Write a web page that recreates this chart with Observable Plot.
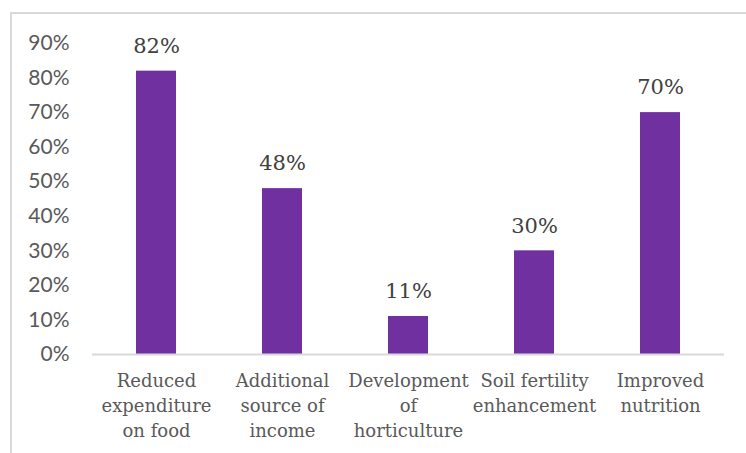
<!DOCTYPE html>
<html>
<head>
<meta charset="utf-8">
<script src="https://cdn.jsdelivr.net/npm/d3@7"></script>
<script src="https://cdn.jsdelivr.net/npm/@observablehq/plot@0.6"></script>
<style>
  html, body { margin: 0; padding: 0; background: #fff; overflow: hidden; }
  #wrap { position: relative; width: 746px; height: 453px; }
  #frame { position: absolute; left: 10px; top: 12px; width: 800px; height: 500px;
           border-left: 2px solid #d9d9d9; border-top: 2px solid #d9d9d9; box-sizing: border-box; }
  #chart { position: absolute; left: 0; top: 0; }
</style>
</head>
<body>
<div id="wrap"><div id="frame"></div><div id="chart"></div></div>
<script>
const categories = [
  "Reduced\nexpenditure\non food",
  "Additional\nsource of\nincome",
  "Development\nof\nhorticulture",
  "Soil fertility\nenhancement",
  "Improved\nnutrition"
];
const values = [82, 48, 11, 30, 70];
const yTicks = [0, 10, 20, 30, 40, 50, 60, 70, 80, 90];

const data = categories.map((c, i) => ({category: c, value: values[i]}));

const chart = Plot.plot({
  width: 746,
  height: 453,
  marginLeft: 92,
  marginRight: 22,
  marginTop: 43,
  marginBottom: 99,
  x: {domain: categories, paddingInner: 0.684, paddingOuter: 0.342, align: 0.5},
  y: {domain: [0, 90]},
  style: {background: "transparent"},
  marks: [
    Plot.axisY({
      ticks: yTicks,
      tickSize: 0,
      tickPadding: 23,
      tickFormat: d => d + "%",
      label: null,
      fontSize: 21,
      fontFamily: "Lato",
      fill: "#595959"
    }),
    Plot.axisX({
      tickSize: 0,
      tickPadding: 15,
      label: null,
      fontSize: 18,
      fontFamily: "DejaVu Serif",
      lineHeight: 1.39,
      fill: "#595959"
    }),
    Plot.barY(data, {x: "category", y: "value", fill: "#7030A0"}),
    Plot.ruleY([0], {stroke: "#d9d9d9", strokeWidth: 2}),
    Plot.text(data, {
      x: "category", y: "value",
      text: d => d.value + "%",
      dy: -25,
      fontSize: 21,
      fontFamily: "DejaVu Serif",
      fill: "#404040"
    })
  ]
});
document.getElementById("chart").appendChild(chart);
</script>
</body>
</html>
